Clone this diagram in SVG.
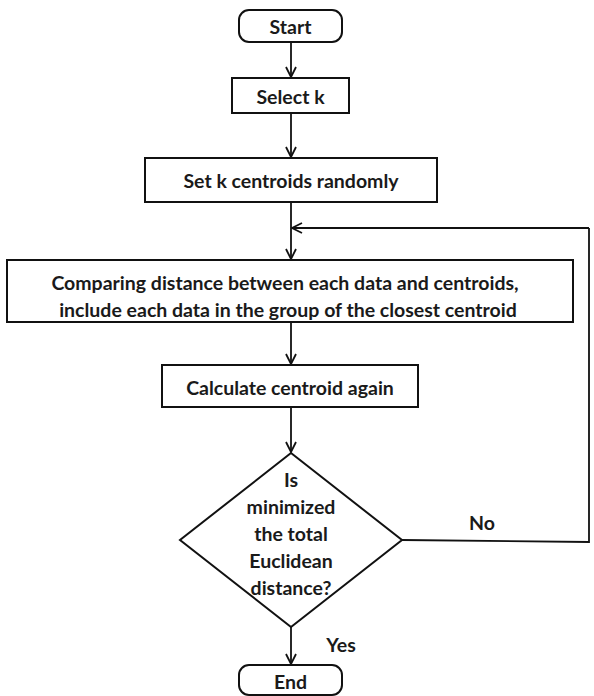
<svg xmlns="http://www.w3.org/2000/svg" width="594" height="696" viewBox="0 0 594 696">
<defs>
<marker id="arr" viewBox="0 0 12 12" refX="11" refY="6" markerWidth="12" markerHeight="12" markerUnits="userSpaceOnUse" orient="auto">
<path d="M1,1 L11,6 L1,11" fill="none" stroke="#111" stroke-width="1.8"/>
</marker>
<style>
.box{fill:#fff;stroke:#111;stroke-width:2}
.t{font-family:Lato,"Liberation Sans",sans-serif;font-weight:bold;font-size:19.5px;fill:#1a1a1a;text-anchor:middle;dominant-baseline:central}
.ln{fill:none;stroke:#111;stroke-width:1.8}
</style>
</defs>
<rect width="594" height="696" fill="#fff"/>
<g id="connectors">
<line class="ln" x1="291" y1="42" x2="291" y2="77" marker-end="url(#arr)"/>
<line class="ln" x1="291" y1="113" x2="291" y2="157" marker-end="url(#arr)"/>
<line class="ln" x1="291" y1="202" x2="291" y2="259" marker-end="url(#arr)"/>
<line class="ln" x1="291" y1="322" x2="291" y2="364" marker-end="url(#arr)"/>
<line class="ln" x1="291" y1="407" x2="291" y2="452" marker-end="url(#arr)"/>
<line class="ln" x1="291" y1="627" x2="291" y2="664" marker-end="url(#arr)"/>
<polyline class="ln" points="402,540 589,542 589,228"/>
<line class="ln" x1="589" y1="228" x2="292" y2="228" marker-end="url(#arr)"/>
<text class="t" x="482" y="522">No</text>
<text class="t" x="341" y="644">Yes</text>
</g>
<g id="start">
<rect class="box" x="239" y="10" width="103" height="32" rx="10"/>
<text class="t" x="290.5" y="26">Start</text>
</g>
<g id="selectk">
<rect class="box" x="232" y="78" width="117" height="35"/>
<text class="t" x="290.5" y="96">Select k</text>
</g>
<g id="setk">
<rect class="box" x="145" y="158" width="292" height="44"/>
<text class="t" x="291" y="180">Set k centroids randomly</text>
</g>
<g id="compare">
<rect class="box" x="7" y="260" width="566" height="62"/>
<text class="t" x="285" y="282">Comparing distance between each data and centroids,</text>
<text class="t" x="288" y="309">include each data in the group of the closest centroid</text>
</g>
<g id="calc">
<rect class="box" x="162" y="365" width="256" height="42"/>
<text class="t" x="290" y="387">Calculate centroid again</text>
</g>
<g id="decision">
<polygon class="box" points="291,453 402,540 291,627 180,540"/>
<text class="t" x="291" y="479">Is</text>
<text class="t" x="291" y="506">minimized</text>
<text class="t" x="291" y="533">the total</text>
<text class="t" x="291" y="560">Euclidean</text>
<text class="t" x="291" y="587">distance?</text>
</g>
<g id="end">
<rect class="box" x="239" y="665" width="103" height="30" rx="10"/>
<text class="t" x="290.5" y="681">End</text>
</g>
</svg>
